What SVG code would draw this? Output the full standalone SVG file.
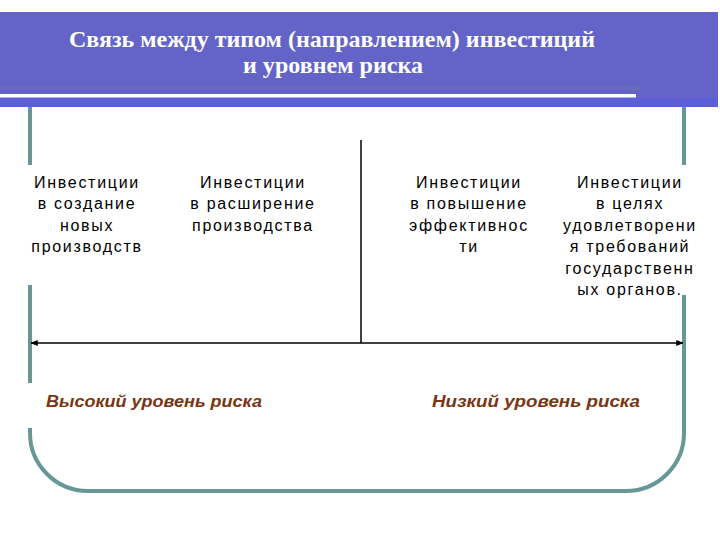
<svg xmlns="http://www.w3.org/2000/svg" width="720" height="540" viewBox="0 0 720 540">
<defs>
<style>
.title{font-family:"Liberation Serif","Times New Roman",serif;font-size:23px;font-weight:bold;fill:#ffffff;text-anchor:middle}
.node{font-family:"Liberation Sans",Arial,sans-serif;font-size:16px;fill:#000000;text-anchor:middle;letter-spacing:1.7px}
.risk{font-family:"Liberation Sans",Arial,sans-serif;font-size:17px;font-weight:bold;font-style:italic;fill:#7a3512}
.frame{fill:none;stroke:#679797;stroke-width:4;stroke-linecap:butt}
.conn{fill:none;stroke:#000000;stroke-width:1.5}
</style>
<marker id="ah" viewBox="0 0 10 10" refX="9" refY="5" markerWidth="5" markerHeight="5" orient="auto-start-reverse">
<path d="M0,1 L10,5 L0,9 Z" fill="#000000"/>
</marker>
</defs>
<rect width="720" height="540" fill="#ffffff"/>
<g id="banner">
<rect x="0" y="12" width="718" height="95" fill="#6464c8"/>
<rect x="0" y="86" width="640" height="4" fill="#6a6ab8"/>
<rect x="0" y="98" width="718" height="9" fill="#5c5ed8"/>
<rect x="0" y="94" width="636" height="3.5" fill="#ffffff"/>
<text class="title" x="332" y="47" textLength="526" lengthAdjust="spacingAndGlyphs">Связь между типом (направлением) инвестиций</text>
<text class="title" x="333" y="73" textLength="180" lengthAdjust="spacingAndGlyphs">и уровнем риска</text>
</g>
<g id="frame">
<path class="frame" d="M30,107 V165 M30,285 V383 M30,428 V433 A58,58 0 0 0 88,491 H626 A58,58 0 0 0 684,433 V295 M684,165 V107"/>
</g>
<g id="connectors">
<line class="conn" x1="361" y1="140" x2="361" y2="343"/>
<line class="conn" x1="31" y1="343" x2="683" y2="343" marker-start="url(#ah)" marker-end="url(#ah)"/>
</g>
<g id="node1">
<text class="node" x="87" y="188">Инвестиции</text>
<text class="node" x="87" y="209">в создание</text>
<text class="node" x="87" y="231">новых</text>
<text class="node" x="87" y="252">производств</text>
</g>
<g id="node2">
<text class="node" x="253" y="188">Инвестиции</text>
<text class="node" x="253" y="209">в расширение</text>
<text class="node" x="253" y="231">производства</text>
</g>
<g id="node3">
<text class="node" x="469" y="188">Инвестиции</text>
<text class="node" x="469" y="209">в повышение</text>
<text class="node" x="469" y="231">эффективнос</text>
<text class="node" x="469" y="252">ти</text>
</g>
<g id="node4">
<text class="node" x="630" y="188">Инвестиции</text>
<text class="node" x="630" y="209">в целях</text>
<text class="node" x="630" y="231">удовлетворени</text>
<text class="node" x="630" y="252">я требований</text>
<text class="node" x="630" y="274">государственн</text>
<text class="node" x="630" y="295">ых органов.</text>
</g>
<g id="risk-high">
<text class="risk" x="46" y="407" textLength="216" lengthAdjust="spacingAndGlyphs">Высокий уровень риска</text>
</g>
<g id="risk-low">
<text class="risk" x="432" y="407" textLength="208" lengthAdjust="spacingAndGlyphs">Низкий уровень риска</text>
</g>
</svg>
